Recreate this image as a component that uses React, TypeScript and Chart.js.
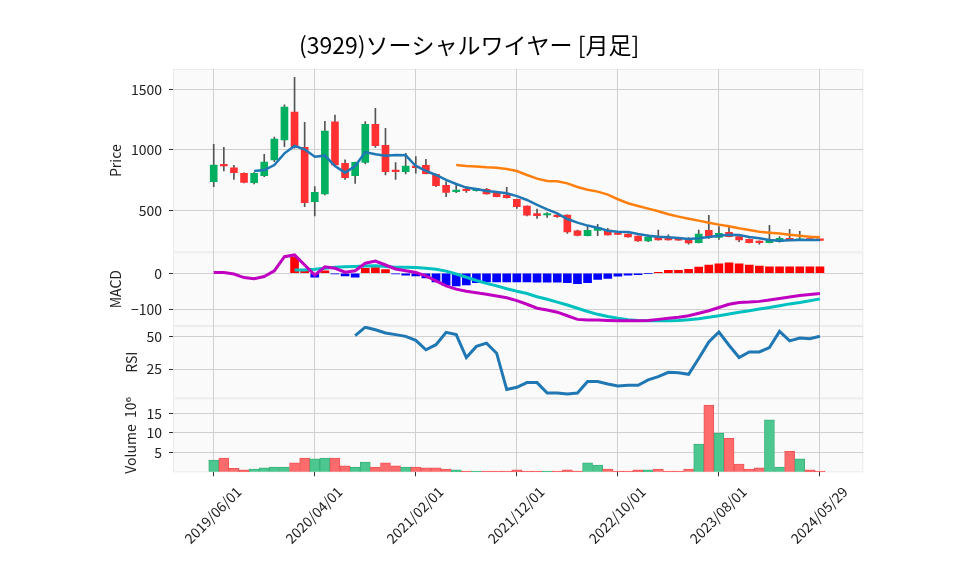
import React, { useEffect, useRef } from 'react';
import { Chart, registerables } from 'chart.js';

Chart.register(...registerables);

const FONT = "'Noto Sans CJK JP', 'DejaVu Sans', sans-serif";

const dates = [
  '2019/06/01', '2019/07/01', '2019/08/01', '2019/09/01', '2019/10/01', '2019/11/01', '2019/12/01',
  '2020/01/01', '2020/02/01', '2020/03/01', '2020/04/01', '2020/05/01', '2020/06/01', '2020/07/01',
  '2020/08/01', '2020/09/01', '2020/10/01', '2020/11/01', '2020/12/01', '2021/01/01', '2021/02/01',
  '2021/03/01', '2021/04/01', '2021/05/01', '2021/06/01', '2021/07/01', '2021/08/01', '2021/09/01',
  '2021/10/01', '2021/11/01', '2021/12/01', '2022/01/01', '2022/02/01', '2022/03/01', '2022/04/01',
  '2022/05/01', '2022/06/01', '2022/07/01', '2022/08/01', '2022/09/01', '2022/10/01', '2022/11/01',
  '2022/12/01', '2023/01/01', '2023/02/01', '2023/03/01', '2023/04/01', '2023/05/01', '2023/06/01',
  '2023/07/01', '2023/08/01', '2023/09/01', '2023/10/01', '2023/11/01', '2023/12/01', '2024/01/01',
  '2024/02/01', '2024/03/01', '2024/04/01', '2024/05/01', '2024/05/29',
];

const opens = [
  739, 882, 852, 808, 731, 788, 918, 1082, 1313, 1022, 574, 637, 1231, 890, 788, 898, 1211, 1038, 835, 821,
  868, 874, 799, 709, 657, 676, 665, 676, 648, 629, 593, 538, 475, 464, 464, 464, 333, 294, 338, 341,
  316, 308, 291, 250, 283, 275, 267, 258, 237, 338, 280, 322, 286, 264, 250, 237, 245, 272, 256, 262, 258,
];
const highs = [
  1047, 1022, 874, 812, 813, 964, 1107, 1371, 1598, 1228, 698, 1236, 1288, 918, 900, 1233, 1343, 1178, 896, 972,
  945, 923, 801, 739, 712, 698, 685, 684, 650, 692, 595, 540, 514, 484, 473, 466, 341, 374, 388, 355,
  320, 310, 293, 300, 341, 300, 275, 278, 341, 462, 368, 368, 290, 268, 252, 379, 286, 346, 330, 268, 260,
];
const lows = [
  698, 827, 758, 729, 720, 780, 904, 1027, 1014, 533, 456, 630, 870, 758, 725, 885, 1022, 794, 758, 802,
  808, 802, 698, 615, 648, 651, 660, 635, 613, 602, 519, 456, 437, 445, 445, 313, 292, 292, 294, 298,
  303, 281, 247, 245, 256, 256, 254, 223, 235, 272, 264, 284, 245, 235, 223, 235, 240, 254, 254, 254, 252,
];
const closes = [
  876, 868, 813, 733, 808, 901, 1090, 1354, 1027, 566, 651, 1156, 876, 772, 898, 1211, 1036, 821, 821, 868,
  854, 805, 706, 651, 670, 665, 679, 637, 615, 607, 533, 462, 459, 475, 451, 324, 296, 338, 360, 300,
  305, 283, 250, 280, 258, 258, 256, 234, 308, 294, 313, 286, 258, 237, 237, 258, 272, 256, 264, 258, 255,
];

const ma5 = [
  null, null, null, null, 827, 835, 876, 972, 1033, 1005, 945, 953, 868, 813, 868, 983, 964, 953, 959, 956,
  868, 827, 794, 753, 720, 690, 679, 662, 654, 643, 620, 588, 547, 511, 478, 431, 401, 377, 360, 335,
  327, 324, 308, 294, 286, 280, 275, 267, 272, 283, 294, 302, 300, 283, 272, 258, 253, 256, 258, 258, 258,
];
const ma25 = [
  null, null, null, null, null, null, null, null, null, null, null, null, null, null, null, null, null, null, null, null,
  null, null, null, null, 876, 868, 863, 857, 854, 843, 827, 794, 764, 745, 742, 725, 695, 673, 657, 632,
  594, 561, 539, 517, 495, 470, 451, 434, 418, 401, 385, 371, 355, 341, 327, 319, 311, 302, 294, 286, 280,
];

const macdLine = [
  2, 2, -2, -12, -15, -9, 7, 46, 51, 23, -5, 18, 14, 3, 7, 28, 34, 23, 12, 7,
  2, -7, -21, -35, -44, -50, -54, -58, -63, -68, -76, -86, -97, -102, -108, -118, -128, -130, -130, -131,
  -132, -132, -132, -131, -128, -125, -122, -118, -111, -104, -95, -86, -81, -80, -78, -74, -70, -66, -62, -59, -56,
];
const signalLine = [
  null, null, null, null, null, null, null, null, 9, 9, 11, 14, 17, 18, 19, 20, 21, 19, 17, 17,
  16, 14, 11, 6, -2, -11, -20, -28, -35, -43, -50, -56, -65, -72, -80, -88, -97, -106, -114, -120,
  -125, -129, -131, -132, -132, -132, -131, -129, -126, -122, -118, -113, -108, -104, -99, -95, -90, -85, -81, -76, -71,
];
const macdHist = [
  null, null, null, null, null, null, null, null, 44, 10, -11, 7, -2, -7, -11, 14, 16, 10, -2, -5,
  -7, -13, -24, -33, -35, -32, -26, -24, -24, -24, -24, -24, -25, -25, -25, -26, -29, -26, -17, -14,
  -8, -5.5, -3.7, -0.8, 3, 8, 8, 11, 17, 23, 26, 29, 26, 23, 20, 18, 18, 18, 18, 18, 18,
];

const rsiLine = [
  null, null, null, null, null, null, null, null, null, null, null, null, null, null, 50.5, 57, 55, 52.6, 51.3, 50,
  46.9, 39.7, 43.6, 53, 51.3, 33.8, 42.3, 44.8, 37.1, 9.3, 11, 14.6, 14.6, 6.6, 6.6, 5.8, 6.6, 15.4, 15.4, 13.6,
  12.1, 12.6, 12.6, 16.7, 19.2, 22.5, 22.2, 21, 33, 45.7, 53.3, 43.2, 33.8, 38.1, 38.1, 41.4, 53.8, 46.5, 48.7, 48.2, 50,
];

const volumeM = [
  3.0, 3.5, 0.9, 0.5, 0.7, 1.0, 1.2, 1.2, 2.3, 3.5, 3.3, 3.5, 3.5, 1.5, 1.2, 2.5, 1.2, 2.3, 1.5, 1.2,
  1.2, 1.0, 1.0, 0.7, 0.5, 0.2, 0.2, 0.2, 0.2, 0.2, 0.5, 0.2, 0.2, 0.2, 0.2, 0.5, 0.2, 2.3, 1.7, 0.7,
  0.2, 0.2, 0.5, 0.5, 0.7, 0.2, 0.2, 0.7, 7.1, 17.1, 9.95, 8.6, 2.0, 0.7, 1.0, 13.3, 1.2, 5.25, 3.3, 0.5, 0.2,
];

const xTickIndex = [0, 10, 20, 30, 40, 50, 60];
const priceTicks = [500, 1000, 1500];
const macdTicks = [-100, 0];
const rsiTicks = [25, 50];
const volTicks = [5, 10, 15];

const UP = '#00b060';
const DOWN = '#fe3032';
const VOL_UP = '#4dc790';
const VOL_DOWN = '#fd6b6c';

const pts = (arr: (number | null)[]) =>
  arr.map((v, i) => (v === null ? null : { x: i, y: v })).filter((p) => p !== null);

const panelBg = {
  id: 'panelBg',
  beforeDraw(chart: any) {
    const { ctx, chartArea } = chart;
    ctx.save();
    ['yPrice', 'yMacd', 'yRsi', 'yVol'].forEach((id) => {
      const s = chart.scales[id];
      ctx.fillStyle = '#fafafa';
      ctx.fillRect(chartArea.left, s.top, chartArea.right - chartArea.left, s.bottom - s.top);
      ctx.strokeStyle = '#ececec';
      ctx.lineWidth = 1;
      ctx.strokeRect(chartArea.left + 0.5, s.top + 0.5, chartArea.right - chartArea.left - 1, s.bottom - s.top - 1);
    });
    ctx.restore();
  },
};

const tickFont = { family: FONT, size: 14 };
const gridOpts = { color: '#d0d0d0', tickColor: '#333', tickLength: 4, lineWidth: 1, offset: false };

function yAxis(weight: number, min: number, max: number, ticksArr: number[], title: string, titlePad: number) {
  return {
    type: 'linear',
    position: 'left',
    stack: 'panels',
    stackWeight: weight,
    min,
    max,
    offset: false,
    grid: gridOpts,
    border: { display: false },
    ticks: {
      font: tickFont,
      color: '#222',
      padding: 7,
      callback: (v: number) => (v < 0 ? '\u2212' + Math.abs(v) : String(v)),
    },
    title: {
      display: true,
      text: title,
      font: { family: FONT, size: 14 },
      color: '#222',
      padding: { top: titlePad, bottom: 0 },
    },
    afterBuildTicks: (axis: any) => {
      axis.ticks = ticksArr.map((v) => ({ value: v }));
    },
    afterFit: (axis: any) => {
      axis.width = 98;
    },
  };
}

export default function App() {
  const ref = useRef<HTMLCanvasElement | null>(null);

  useEffect(() => {
    if (!ref.current) return;
    const up = closes.map((c, i) => c >= opens[i]);
    const chart = new Chart(ref.current, {
      data: {
        datasets: [
          {
            type: 'bar',
            yAxisID: 'yPrice',
            data: dates.map((_, i) => ({ x: i, y: [opens[i], closes[i]] })) as any,
            backgroundColor: up.map((u) => (u ? UP : DOWN)),
            barThickness: 7,
            minBarLength: 1.5,
            grouped: false,
            order: 2,
          },
          {
            type: 'bar',
            yAxisID: 'yPrice',
            data: dates.map((_, i) => ({ x: i, y: [lows[i], highs[i]] })) as any,
            backgroundColor: '#555555',
            barThickness: 1,
            grouped: false,
            order: 3,
          },
          {
            type: 'line',
            yAxisID: 'yPrice',
            data: pts(ma5) as any,
            borderColor: '#1f77b4',
            borderWidth: 2.5,
            pointRadius: 0,
            order: 1,
          },
          {
            type: 'line',
            yAxisID: 'yPrice',
            data: pts(ma25) as any,
            borderColor: '#ff7f0e',
            borderWidth: 2.5,
            pointRadius: 0,
            order: 1,
          },
          {
            type: 'bar',
            yAxisID: 'yMacd',
            data: pts(macdHist) as any,
            backgroundColor: macdHist.filter((v) => v !== null).map((v) => ((v as number) >= 0 ? '#ff0000' : '#0000ff')),
            barThickness: 8,
            grouped: false,
            order: 3,
          },
          {
            type: 'line',
            yAxisID: 'yMacd',
            data: pts(macdLine) as any,
            borderColor: '#c000c0',
            borderWidth: 3,
            pointRadius: 0,
            order: 1,
          },
          {
            type: 'line',
            yAxisID: 'yMacd',
            data: pts(signalLine) as any,
            borderColor: '#00c0c0',
            borderWidth: 3,
            pointRadius: 0,
            order: 1,
          },
          {
            type: 'line',
            yAxisID: 'yRsi',
            data: pts(rsiLine) as any,
            borderColor: '#1f77b4',
            borderWidth: 3,
            pointRadius: 0,
            order: 1,
          },
          {
            type: 'bar',
            yAxisID: 'yVol',
            data: volumeM.map((v, i) => ({ x: i, y: v })) as any,
            backgroundColor: up.map((u) => (u ? VOL_UP : VOL_DOWN)),
            borderColor: up.map((u) => (u ? '#3bb27c' : '#ee5556')),
            borderWidth: 1,
            barThickness: 10,
            grouped: false,
            order: 3,
          },
        ],
      },
      options: {
        responsive: false,
        animation: false,
        events: [],
        layout: { padding: { left: 75, right: 94.7, top: 0, bottom: 0 } },
        plugins: {
          legend: { display: false },
          tooltip: { enabled: false },
          title: {
            display: true,
            text: '(3929)ソーシャルワイヤー [月足]',
            font: { family: FONT, size: 23, weight: 'normal' },
            color: '#000',
            padding: { top: 31.2, bottom: 10.2 },
          },
        },
        scales: {
          x: {
            type: 'linear',
            min: -4.03,
            max: 64.29,
            offset: false,
            grid: gridOpts,
            border: { display: false },
            ticks: {
              autoSkip: false,
              maxRotation: 45,
              minRotation: 45,
              font: tickFont,
              color: '#222',
              padding: 7,
              labelOffset: 25,
              callback: (v: number) => dates[v] ?? '',
            },
            afterBuildTicks: (axis: any) => {
              axis.ticks = xTickIndex.map((v) => ({ value: v }));
            },
            afterFit: (axis: any) => {
              axis.height = 102.7;
            },
          },
          yVol: yAxis(74, -0.13, 18.85, volTicks, 'Volume  10\u2076', 47.6),
          yRsi: yAxis(72.3, 2.6, 57.9, rsiTicks, 'RSI', 48.3),
          yMacd: yAxis(73.7, -146.4, 58.3, macdTicks, 'MACD', 32),
          yPrice: yAxis(183.3, 157, 1667, priceTicks, 'Price', 32.4),
        } as any,
      },
      plugins: [panelBg],
    } as any);
    return () => chart.destroy();
  }, []);

  return (
    <canvas
      ref={ref}
      width={958}
      height={575}
      style={{ position: 'fixed', left: 0, top: 0, display: 'block', width: 958, height: 575 }}
    />
  );
}
